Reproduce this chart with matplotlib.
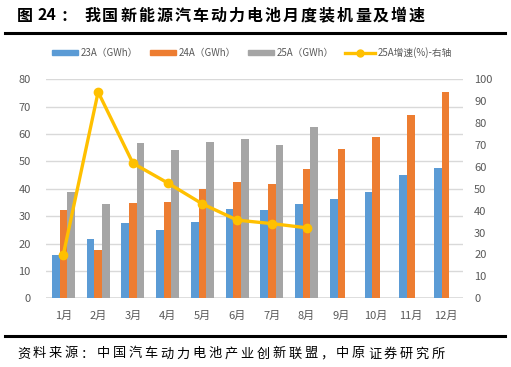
import matplotlib
matplotlib.use("Agg")
import matplotlib.pyplot as plt
from matplotlib.lines import Line2D
from matplotlib.patches import Patch
import numpy as np

plt.rcParams['font.family'] = ['Noto Sans CJK SC', 'DejaVu Sans']

months = ["1月", "2月", "3月", "4月", "5月", "6月", "7月", "8月", "9月", "10月", "11月", "12月"]
a23 = [16.0, 21.8, 27.6, 24.9, 28.0, 32.8, 32.1, 34.6, 36.2, 39.0, 44.9, 47.7]
a24 = [32.1, 17.8, 34.9, 35.1, 39.8, 42.6, 41.6, 47.1, 54.4, 59.1, 67.1, 75.4]
a25 = [38.7, 34.6, 56.6, 54.0, 57.1, 58.2, 55.9, 62.4]
g25 = [20.0, 94.2, 61.7, 52.7, 43.1, 35.7, 34.1, 32.2]

labels = ["23A（GWh）", "24A（GWh）", "25A（GWh）", "25A增速(%)-右轴"]
title_body = "我国新能源汽车动力电池月度装机量及增速"
source = "资料来源：中国汽车动力电池产业创新联盟，中原证券研究所"

c_blue = "#5B9BD5"
c_orange = "#ED7D31"
c_gray = "#A5A5A5"
c_line = "#FFC000"
tick_c = "#595959"

W, H = 511, 367
fig = plt.figure(figsize=(W / 100, H / 100), dpi=100)
ax = fig.add_axes([46 / W, 1 - 298.3 / H, (463 - 46) / W, (298.3 - 79.3) / H])
ax2 = ax.twinx()

x = np.arange(len(months))
w = 0.222
ax.bar(x - w, a23, w, color=c_blue, zorder=3)
ax.bar(x, a24, w, color=c_orange, zorder=3)
ax.bar(np.arange(len(a25)) + w, a25, w, color=c_gray, zorder=3)

ax2.plot(np.arange(len(g25)), g25, color=c_line, lw=2.4, marker='o', ms=6, zorder=4)

ax.set_xlim(-0.5, len(months) - 0.5)
ax.set_ylim(0, 80)
ax2.set_ylim(0, 100)
ax.set_yticks(np.arange(0, 81, 10))
ax2.set_yticks(np.arange(0, 101, 10))
ax.set_xticks(x)
ax.set_xticklabels(months)

ax.grid(axis='y', color='#D9D9D9', lw=1, zorder=0)
ax.set_axisbelow(True)
for a in (ax, ax2):
    for s in ('top', 'left', 'right', 'bottom'):
        a.spines[s].set_visible(False)
ax.axhline(0, color='#D9D9D9', lw=1.2, zorder=2)

ax.tick_params(axis='both', length=0, labelsize=8, colors=tick_c)
ax.tick_params(axis='y', pad=11)
ax.tick_params(axis='x', pad=9)
ax2.tick_params(axis='y', length=0, labelsize=8, colors=tick_c, pad=8)
ax2.patch.set_visible(False)

handles = [Patch(color=c_blue), Patch(color=c_orange), Patch(color=c_gray),
           Line2D([0], [0], color=c_line, lw=2.4, marker='o', ms=5)]
starts = [52, 150, 248, 345]
hlens = [2.7, 2.7, 2.7, 3.1]
for h, lab, sx, hl in zip(handles, labels, starts, hlens):
    fig.legend([h], [lab], loc='center left', bbox_to_anchor=(sx / W, 1 - 53 / H),
               frameon=False, fontsize=7, handlelength=hl, handleheight=0.55,
               handletextpad=0.25, borderpad=0, borderaxespad=0, labelcolor=tick_c)

ty = 1 - 15.5 / H
fig.text(17 / W, ty, "图", fontsize=11.5, fontweight='bold', va='center', ha='left')
fig.text(37 / W, ty, "24", fontsize=11.5, fontweight='bold', va='center', ha='left')
fig.text(61 / W, ty, "：", fontsize=11.5, fontweight='bold', va='center', ha='left')
for i, ch in enumerate(title_body):
    fig.text((84 + i * 18.05) / W, ty, ch, fontsize=11.5, fontweight='bold',
             va='center', ha='left')

fig.add_artist(Line2D([5 / W, 505 / W], [1 - 32.5 / H, 1 - 32.5 / H], color='black', lw=2.2))
fig.add_artist(Line2D([5 / W, 505 / W], [1 - 336 / H, 1 - 336 / H], color='black', lw=2.2))

for i, ch in enumerate(source):
    fig.text((17 + i * 15.95) / W, 1 - 354 / H, ch, fontsize=9.5, va='center', ha='left')

fig.savefig("out.png", dpi=100)
